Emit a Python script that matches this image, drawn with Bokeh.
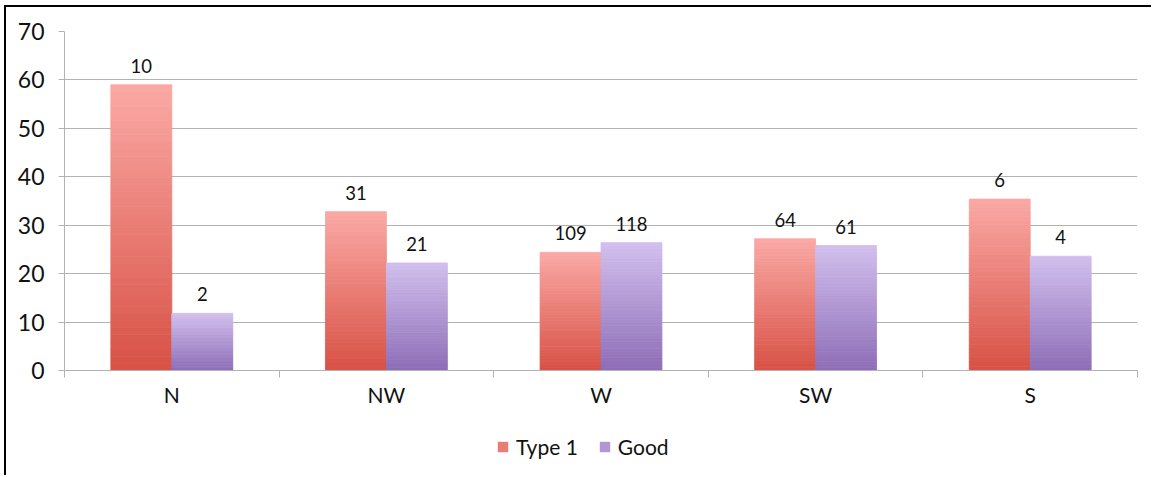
import numpy as np
from bokeh.plotting import figure
from bokeh.layouts import column
from bokeh.models import ColumnDataSource, FixedTicker, Legend, LegendItem, Range1d
from bokeh.core.properties import value
from bokeh.embed import file_html
from bokeh.resources import INLINE

# ---- data ----
categories = ["N", "NW", "W", "SW", "S"]
series_names = ["Type 1", "Good"]
type1_values = [59.0, 32.8, 24.4, 27.2, 35.4]
good_values = [11.8, 22.2, 26.4, 25.8, 23.6]
type1_labels = ["10", "31", "109", "64", "6"]
good_labels = ["2", "21", "118", "61", "4"]
y_ticks = [0, 10, 20, 30, 40, 50, 60, 70]

# ---- style ----
FONT = "Lato"
GRID = "#b2b2b2"
BAR_W = 0.284
T1_TOP, T1_BOT = (250, 168, 164), (216, 82, 70)
GD_TOP, GD_BOT = (209, 190, 237), (142, 110, 183)
N_SLICES = 40


def hexc(c):
    return "#%02x%02x%02x" % tuple(int(round(v)) for v in c)


def gradient_source(xs, vals, top_c, bot_c):
    x, b, t, col = [], [], [], []
    for xi, v in zip(xs, vals):
        for k in range(N_SLICES):
            f = k / (N_SLICES - 1)
            c = [bot_c[j] + (top_c[j] - bot_c[j]) * f for j in range(3)]
            x.append(xi)
            b.append(v * k / N_SLICES)
            t.append(v * (k + 1) / N_SLICES)
            col.append(hexc(c))
    return ColumnDataSource(dict(x=x, bottom=b, top=t, color=col))


p = figure(width=1147, height=410, output_backend="svg", toolbar_location=None,
           x_range=Range1d(0, len(categories)), y_range=Range1d(0, 70),
           min_border_left=58, min_border_right=16, min_border_top=24,
           min_border_bottom=47)
p.margin = (5, 0, 0, 4)
p.styles = {"border-left": "2px solid #000", "border-top": "2px solid #000"}
p.outline_line_color = None
p.background_fill_color = "white"
p.border_fill_color = "white"

centers = np.arange(len(categories)) + 0.5
x_t1 = centers - BAR_W / 2
x_gd = centers + BAR_W / 2

src_t1 = gradient_source(x_t1, type1_values, T1_TOP, T1_BOT)
src_gd = gradient_source(x_gd, good_values, GD_TOP, GD_BOT)
for src in (src_t1, src_gd):
    p.vbar(x="x", bottom="bottom", top="top", width=BAR_W, source=src,
           fill_color="color", line_color="color", line_width=0.8)

# data labels
lab = ColumnDataSource(dict(x=list(x_t1) + list(x_gd),
                            y=type1_values + good_values,
                            t=type1_labels + good_labels))
p.text(x="x", y="y", text="t", source=lab, text_align="center",
       text_baseline="alphabetic", y_offset=-19, text_font=value(FONT),
       text_font_size="18.5px", text_color="#111111")

# axes
p.xgrid.visible = False
p.ygrid.grid_line_color = GRID
p.ygrid.grid_line_width = 1
p.yaxis.ticker = FixedTicker(ticks=y_ticks)
p.yaxis.axis_line_color = GRID
p.yaxis.major_tick_line_color = GRID
p.yaxis.major_tick_out = 6
p.yaxis.major_tick_in = 0
p.yaxis.minor_tick_line_color = None
p.yaxis.major_label_standoff = 14
p.yaxis.major_label_text_font = FONT
p.yaxis.major_label_text_font_size = "23px"
p.yaxis.major_label_text_color = "#111111"

p.xaxis.ticker = FixedTicker(ticks=list(centers),
                             minor_ticks=list(range(len(categories) + 1)))
p.xaxis.major_label_overrides = {float(c): n for c, n in zip(centers, categories)}
p.xaxis.axis_line_color = GRID
p.xaxis.major_tick_line_color = None
p.xaxis.major_tick_out = 0
p.xaxis.major_tick_in = 0
p.xaxis.minor_tick_line_color = GRID
p.xaxis.minor_tick_out = 7
p.xaxis.minor_tick_in = 0
p.xaxis.major_label_standoff = 4
p.xaxis.major_label_text_font = FONT
p.xaxis.major_label_text_font_size = "21px"
p.xaxis.major_label_text_color = "#111111"

# legend strip (separate figure below the chart)
pl = figure(width=1147, height=60, output_backend="svg", toolbar_location=None,
            x_range=Range1d(0, 1), y_range=Range1d(0, 1),
            x_axis_location=None, y_axis_location=None,
            min_border=0)
pl.margin = (0, 0, 0, 4)
pl.styles = {"border-left": "2px solid #000"}
pl.outline_line_color = None
pl.grid.visible = False

mid_t1 = hexc([(a + b) / 2 for a, b in zip(T1_TOP, T1_BOT)])
mid_gd = hexc([(a + b) / 2 for a, b in zip(GD_TOP, GD_BOT)])
r1 = pl.vbar(x=[-5], bottom=[0], top=[0], width=0.1, fill_color=mid_t1, line_color=None)
r2 = pl.vbar(x=[-5], bottom=[0], top=[0], width=0.1, fill_color=mid_gd, line_color=None)
legend = Legend(items=[LegendItem(label=series_names[0], renderers=[r1]),
                       LegendItem(label=series_names[1], renderers=[r2])],
                orientation="horizontal", location=(432, 16),
                background_fill_alpha=0, border_line_color=None,
                padding=0, margin=0, spacing=20, label_standoff=7,
                glyph_width=13, glyph_height=13, label_height=22,
                label_text_font=FONT, label_text_font_size="21px",
                label_text_color="#111111")
pl.add_layout(legend, "center")

layout = column(p, pl, spacing=0)
open("out.html", "w").write(file_html(layout, INLINE))
